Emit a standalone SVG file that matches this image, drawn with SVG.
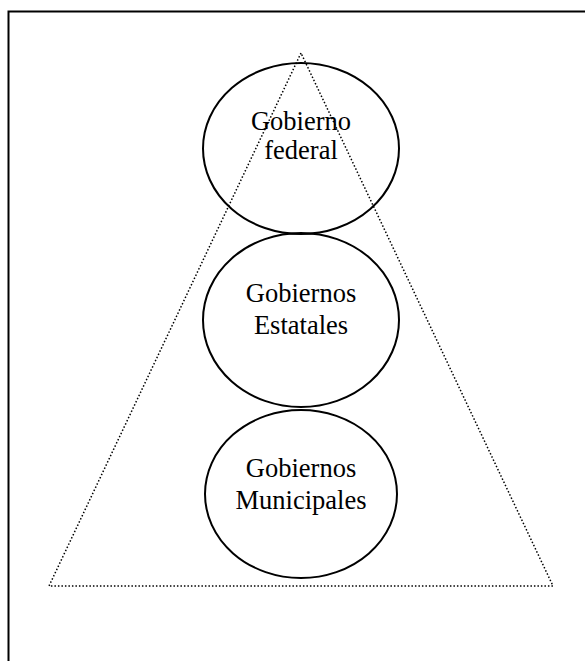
<svg xmlns="http://www.w3.org/2000/svg" width="585" height="661" viewBox="0 0 585 661">
<style>
.frame{fill:none;stroke:#000;stroke-width:2}
.tri{fill:none;stroke:#000;stroke-width:1.5;stroke-dasharray:1.5 2}
.node ellipse{fill:none;stroke:#000;stroke-width:2}
.node text{font-family:"Liberation Serif","Times New Roman",serif;font-size:26.5px;fill:#000;text-anchor:middle}
</style>
<rect width="585" height="661" fill="#fff"/>
<path class="frame" d="M8.5 661 V11.5 H585"/>
<g id="connectors">
<polygon class="tri" points="301,53 49,586 553,586"/>
</g>
<g id="federal" class="node">
<ellipse cx="301" cy="148.5" rx="98" ry="85.5"/>
<text x="301" y="130">Gobierno</text>
<text x="301" y="159">federal</text>
</g>
<g id="estatales" class="node">
<ellipse cx="301" cy="320" rx="98" ry="87"/>
<text x="301" y="302">Gobiernos</text>
<text x="301" y="334">Estatales</text>
</g>
<g id="municipales" class="node">
<ellipse cx="301" cy="494" rx="96" ry="84"/>
<text x="301" y="477">Gobiernos</text>
<text x="301" y="509">Municipales</text>
</g>
</svg>
